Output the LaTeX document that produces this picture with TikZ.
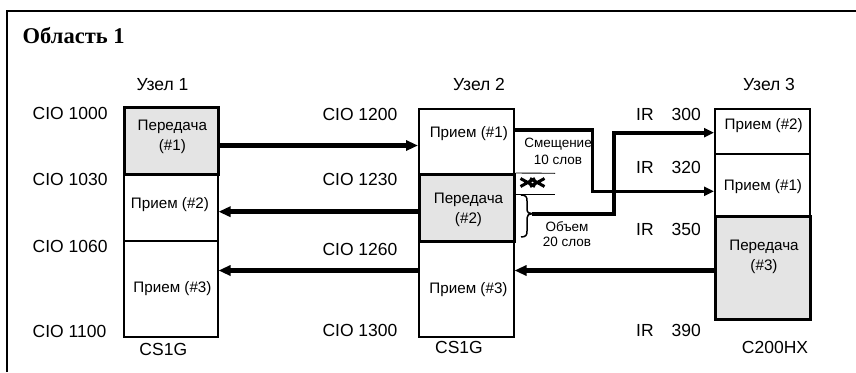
\documentclass[tikz,border=0pt]{standalone}
\usepackage{fontspec}
\setmainfont{Liberation Sans}
\newfontfamily\titlefont{Liberation Serif}
\usetikzlibrary{arrows.meta}
\definecolor{sendgray}{HTML}{E4E4E4}
\begin{document}
\begin{tikzpicture}[x=1pt,y=-1pt,
  box/.style={draw, line width=1.5pt, inner sep=0pt, anchor=north west, minimum width=95pt},
  sendbox/.style={box, fill=sendgray, line width=2.6pt},
  lbl/.style={inner sep=0pt, font=\fontsize{17.5}{20}\selectfont},
  btxt/.style={inner sep=0pt, align=center, font=\fontsize{15.2}{19.5}\selectfont},
  stxt/.style={inner sep=0pt, align=center, font=\fontsize{13.5}{16.8}\selectfont},
  conn/.style={line width=4.5pt, -{Triangle[length=12pt,width=10pt]}},
  conntwo/.style={line width=3.6pt, -{Triangle[length=10pt,width=9pt]}},
  thinline/.style={line width=0.9pt}
]
\useasboundingbox (0,0) rectangle (856,372);
% frame
\draw[line width=1.2pt] (7,372) -- (7,11) -- (856,11);
\node[anchor=base west, inner sep=0pt, font=\titlefont\bfseries\fontsize{22.5}{26}\selectfont] (title) at (22.5,43.3) {Область 1};

% node 1
\node[box, minimum width=94pt, minimum height=67pt] (n1b) at (123,173) {};
\node[box, minimum width=94pt, minimum height=96pt] (n1c) at (123,240) {};
\node[sendbox, minimum width=94pt, minimum height=67pt] (n1a) at (123,106) {};
% node 2
\node[box, minimum height=65pt] (n2a) at (418,108) {};
\node[box, minimum height=96pt] (n2c) at (418,240) {};
\node[sendbox, minimum height=67pt] (n2b) at (418,173) {};
% node 3
\node[box, minimum height=45pt] (n3a) at (714,108) {};
\node[box, minimum height=62pt] (n3b) at (714,153) {};
\node[sendbox, minimum height=103pt] (n3c) at (714,215) {};

% box texts
\node[btxt] (t1a) at (172.3,137) {Передача\\(\#1)};
\node[btxt] (t1b) at (170,205) {Прием (\#2)};
\node[btxt] (t1c) at (172.5,289) {Прием (\#3)};
\node[btxt] (t2a) at (468.8,134) {Прием (\#1)};
\node[btxt] (t2b) at (468.5,210) {Передача\\(\#2)};
\node[btxt] (t2c) at (468.5,289.3) {Прием (\#3)};
\node[btxt] (t3a) at (763.7,125.7) {Прием (\#2)};
\node[btxt] (t3b) at (763,186.7) {Прием (\#1)};
\node[btxt] (t3c) at (764,256.7) {Передача\\(\#3)};

% headers and footers
\node[lbl, anchor=base] (h1) at (162.5,90) {Узел 1};
\node[lbl, anchor=base] (h2) at (479,90) {Узел 2};
\node[lbl, anchor=base] (h3) at (769,90) {Узел 3};
\node[lbl, anchor=base] (f1) at (163.3,355.7) {CS1G};
\node[lbl, anchor=base] (f2) at (459,353.3) {CS1G};
\node[lbl, anchor=base] (f3) at (775,353.3) {C200HX};

% address labels
\node[lbl, anchor=base west] (a10) at (32.5,119) {CIO 1000};
\node[lbl, anchor=base west] (a13) at (32.5,185.7) {CIO 1030};
\node[lbl, anchor=base west] (a16) at (32.5,252.7) {CIO 1060};
\node[lbl, anchor=base west] (a11) at (32.5,337.7) {CIO 1100};
\node[lbl, anchor=base west] (a12) at (322.3,120) {CIO 1200};
\node[lbl, anchor=base west] (a123) at (322.3,185) {CIO 1230};
\node[lbl, anchor=base west] (a126) at (322.3,255) {CIO 1260};
\node[lbl, anchor=base west] (a130) at (322.3,336.7) {CIO 1300};
\node[lbl, anchor=base west] (r300) at (636,120) {IR\hspace{18pt}300};
\node[lbl, anchor=base west] (r320) at (636,173.3) {IR\hspace{18pt}320};
\node[lbl, anchor=base west] (r350) at (636,235.7) {IR\hspace{18pt}350};
\node[lbl, anchor=base west] (r390) at (636,336.7) {IR\hspace{18pt}390};

% offset / size annotations
\node[stxt] (offs) at (558,151.5) {Смещение\\10 слов};
\node[stxt, font=\fontsize{13.5}{15.3}\selectfont] (size) at (567,234) {Объем\\20 слов};

% thin marker lines and cross symbol
\coordinate (m1) at (555,173.3);
\coordinate (m2) at (555,194);
\draw[thinline] (n2b.north east) -- (m1);
\draw[thinline] (n2b.east |- m2) -- (m2);
\draw[line width=3pt] (520.5,178.5) -- (535,186.5) (520.5,186.5) -- (535,178.5)
                      (530,178.5) -- (544.5,186.5) (530,186.5) -- (544.5,178.5);

% brace
\coordinate (btip) at (532,213.7);
\draw[line width=1.5pt] (521,195) .. controls (526,195) and (527,197) .. (527,201) -- (527,209)
  .. controls (527,212.5) and (529,213.7) .. (btip)
  .. controls (529,213.7) and (527,215) .. (527,218) -- (527,231)
  .. controls (527,235) and (526,237) .. (521,237);

% connectors
\draw[conn] (n1a.east |- 0,145.5) -- (n2a.west |- 0,145.5);
\draw[conn] (n2b.west |- 0,211.7) -- (n1b.east |- 0,211.7);
\draw[conn] (n3c.west |- 0,270.5) -- (n2c.east |- 0,270.5);
\draw[conn] (n2c.west |- 0,270.5) -- (n1c.east |- 0,270.5);
\draw[conntwo] (n2a.east |- 0,130) -| (592.5,191.3) -- (n3b.west |- 0,191.3);
\draw[conntwo] (btip) -| (613.7,132.7) -- (n3a.west |- 0,132.7);
\end{tikzpicture}
\end{document}
